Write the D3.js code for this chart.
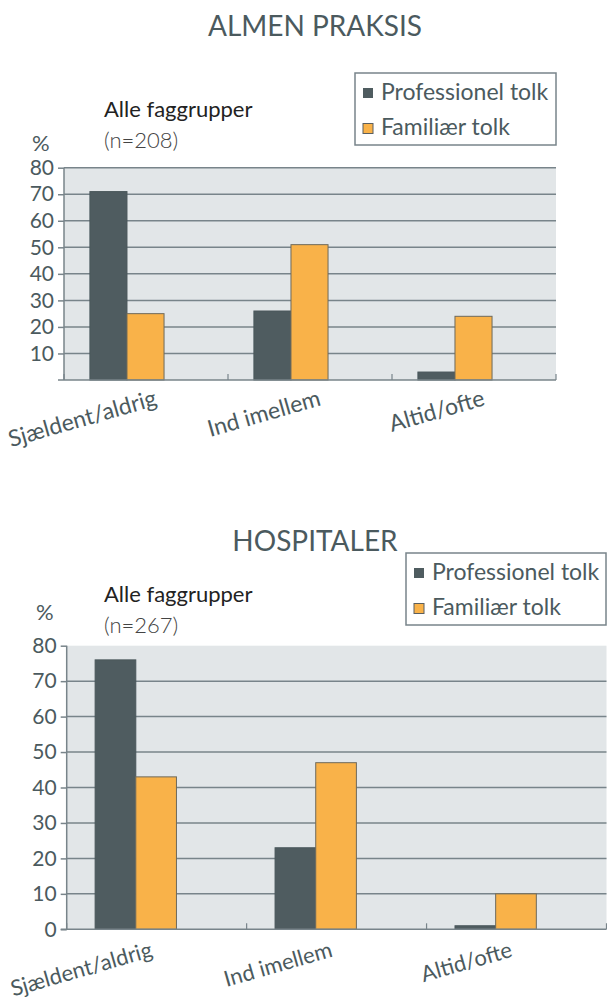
<!DOCTYPE html>
<html>
<head>
<meta charset="utf-8">
<script src="https://cdn.jsdelivr.net/npm/d3@7"></script>
<style>
  html, body { margin: 0; padding: 0; background: #fff; }
  svg text { font-family: Lato, 'Open Sans', sans-serif; }
</style>
</head>
<body>
<div id="chart"></div>
<script>
// data
const categories = ['Sjældent/aldrig', 'Ind imellem', 'Altid/ofte']
const seriesNames = ['Professionel tolk', 'Familiær tolk']
const almenProf = [71, 26, 3]
const almenFam = [25, 51, 24]
const hospProf = [76, 23, 1]
const hospFam = [43, 47, 10]
const almenTicks = [10, 20, 30, 40, 50, 60, 70, 80]
const hospTicks = [0, 10, 20, 30, 40, 50, 60, 70, 80]
const almenGrid = [10, 20, 30, 40, 50, 60, 70, 80]
const hospGrid = [10, 20, 30, 40, 50, 60, 70]

const textColor = '#4b5a5e'
const lineColor = '#78848a'
const colors = ['#4f5c60', '#f9b249']

const svg = d3.select('#chart').append('svg').attr('width', 607).attr('height', 1003)

function drawChart(opt) {
  const g = svg.append('g')
  const x = d3.scaleBand().domain(categories).range([opt.left, opt.right])
  const bw = x.bandwidth()
  const xs = d3.scaleBand().domain(seriesNames).range([bw * 0.158, bw * 0.61])
  const y = d3.scaleLinear().domain([0, 80]).range([opt.bottom, opt.top])

  // title
  g.append('text')
    .attr('x', 315).attr('y', opt.titleY)
    .attr('text-anchor', 'middle')
    .attr('font-size', 28).attr('fill', textColor)
    .text(opt.title)

  // plot background
  g.append('rect')
    .attr('x', opt.left).attr('y', y(80))
    .attr('width', opt.right - opt.left).attr('height', y(0) - y(80))
    .attr('fill', '#e2e6e8')

  // gridlines
  g.selectAll('.grid').data(opt.grid).enter().append('line')
    .attr('x1', opt.left).attr('x2', opt.right)
    .attr('y1', d => y(d)).attr('y2', d => y(d))
    .attr('stroke', lineColor).attr('stroke-width', 1.5)

  // y axis
  const yAxis = g.append('g')
    .attr('transform', `translate(${opt.left},0)`)
    .call(d3.axisLeft(y).tickValues(opt.ticks).tickSize(6).tickPadding(4))
  yAxis.select('.domain').attr('stroke', lineColor).attr('stroke-width', 1.5)
    .attr('d', `M0,${y(80)}V${y(0)}`)
  yAxis.selectAll('.tick line').attr('stroke', lineColor).attr('stroke-width', 1.5)
  yAxis.selectAll('.tick text').attr('font-size', 21).attr('fill', textColor)
    .attr('font-family', 'Lato, sans-serif')

  // bars
  const rows = categories.map((c, i) => ({ cat: c, vals: [opt.prof[i], opt.fam[i]] }))
  g.selectAll('.grp').data(rows).enter().append('g')
    .attr('transform', d => `translate(${x(d.cat)},0)`)
    .selectAll('rect')
    .data(d => d.vals.map((v, j) => ({ name: seriesNames[j], v, j })))
    .enter().append('rect')
    .attr('x', d => xs(d.name)).attr('width', xs.bandwidth())
    .attr('y', d => y(d.v)).attr('height', d => y(0) - y(d.v))
    .attr('fill', d => colors[d.j])
    .attr('stroke', d => d.j === 0 ? '#4a575b' : '#6e6a5c').attr('stroke-width', 1)

  // x axis
  g.append('line')
    .attr('x1', opt.left - 6).attr('x2', opt.right)
    .attr('y1', y(0)).attr('y2', y(0))
    .attr('stroke', lineColor).attr('stroke-width', 1.5)
  const edges = categories.map(c => x(c)).concat([opt.right])
  g.selectAll('.ctick').data(edges).enter().append('line')
    .attr('x1', d => d).attr('x2', d => d)
    .attr('y1', y(0)).attr('y2', y(0) - 6)
    .attr('stroke', lineColor).attr('stroke-width', 1.2)

  // category labels
  g.selectAll('.clabel').data(categories).enter().append('text')
    .attr('text-anchor', 'end')
    .attr('transform', d => `translate(${x(d) + bw / 2 + opt.labelDx},${y(0) + opt.labelDy}) rotate(-16)`)
    .attr('font-size', opt.labelSize).attr('fill', textColor)
    .text(d => d)

  // headings
  g.append('text').attr('x', 104).attr('y', opt.subY)
    .attr('font-size', 22).attr('fill', '#222').text('Alle faggrupper')
  g.append('text').attr('x', 104).attr('y', opt.subY + 31)
    .attr('font-size', 22).attr('fill', '#444').attr('font-weight', 300).text(opt.n)
  g.append('text').attr('x', opt.pctX).attr('y', opt.pctY)
    .attr('font-size', 22).attr('fill', textColor).text('%')

  // legend
  const lg = g.append('g').attr('transform', `translate(${opt.legX},${opt.legY})`)
  lg.append('rect').attr('width', opt.legW).attr('height', 72)
    .attr('fill', '#fff').attr('stroke', lineColor).attr('stroke-width', 1.5)
  seriesNames.forEach((s, i) => {
    lg.append('rect').attr('x', 8).attr('y', 15 + i * 35.5).attr('width', 10).attr('height', 10)
      .attr('fill', colors[i]).attr('stroke', i === 0 ? 'none' : '#5a5f60').attr('stroke-width', 1)
    lg.append('text').attr('x', 26).attr('y', 26.5 + i * 35)
      .attr('font-size', 23).attr('fill', textColor).text(s)
  })
}

drawChart({
  title: 'ALMEN PRAKSIS', titleY: 36,
  left: 64, right: 556, top: 167.7, bottom: 380,
  prof: almenProf, fam: almenFam, ticks: almenTicks, grid: almenGrid,
  labelDx: 12, labelDy: 25, labelSize: 23,
  subY: 117, n: '(n=208)', pctX: 32, pctY: 151,
  legX: 355, legY: 73, legW: 201
})

drawChart({
  title: 'HOSPITALER', titleY: 551,
  left: 66.7, right: 606.5, top: 645.7, bottom: 929.3,
  prof: hospProf, fam: hospFam, ticks: hospTicks, grid: hospGrid,
  labelDx: -3, labelDy: 27, labelSize: 22,
  subY: 602, n: '(n=267)', pctX: 36, pctY: 620,
  legX: 406, legY: 553, legW: 200
})
</script>
</body>
</html>
